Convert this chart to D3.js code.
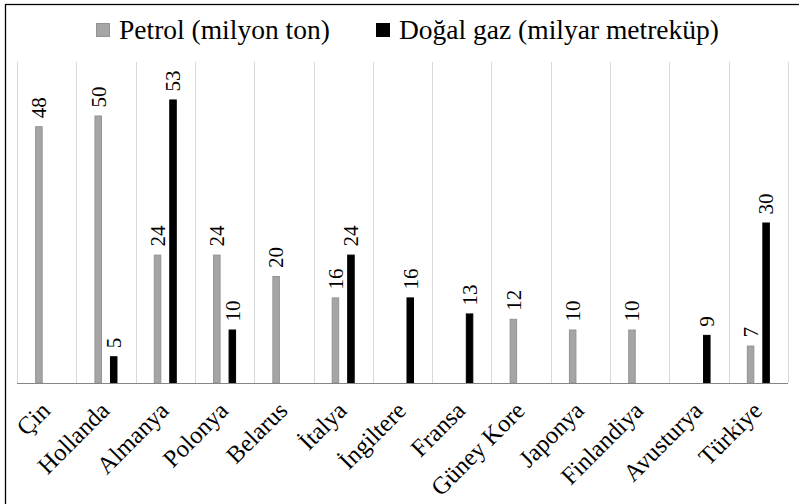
<!DOCTYPE html>
<html>
  <head>
    <meta charset="utf-8">
    <style>
        body { margin: 0; background: #fff; }
    </style>
    <script src="https://d3js.org/d3.v7.min.js"></script>
  </head>
  <body>
    <svg></svg>
    <script>
    var countries = ["Çin", "Hollanda", "Almanya", "Polonya", "Belarus", "İtalya", "İngiltere",
                     "Fransa", "Güney Kore", "Japonya", "Finlandiya", "Avusturya", "Türkiye"];
    var petrol = [48, 50, 24, 24, 20, 16, null, null, 12, 10, 10, null, 7];
    var gaz = [null, 5, 53, 10, null, 24, 16, 13, null, null, null, 9, 30];
    var seriesNames = ["Petrol (milyon ton)", "Doğal gaz (milyar metreküp)"];
    var seriesKeys = ["petrol", "gaz"];

    var FONT = "'Liberation Serif', 'Times New Roman', serif";
    var W = 799, H = 504;
    var svg = d3.select("svg")
        .attr("width", W)
        .attr("height", H)
        .attr("font-family", FONT);

    // outer frame (only top and left edges fall inside the window)
    svg.append("rect")
        .attr("x", 5.5).attr("y", 4.5)
        .attr("width", W + 20).attr("height", H + 20)
        .attr("fill", "#fff")
        .attr("stroke", "#000")
        .attr("stroke-width", 1.3);

    var x0 = d3.scaleBand()
        .domain(countries)
        .range([17, 788]);

    var x1 = d3.scaleBand()
        .domain(seriesKeys)
        .range([0, x0.bandwidth()])
        .paddingInner(0.516)
        .paddingOuter(1.17);

    var y = d3.scaleLinear()
        .domain([0, 60])
        .range([383, 62]);

    var color = {petrol: "#a5a5a5", gaz: "#000"};
    var edge = {petrol: "#939393", gaz: "#000"};

    // vertical gridlines between categories
    var gridX = countries.map(function(c) { return x0(c); }).concat([x0.range()[1]]);
    svg.append("g")
        .selectAll("line")
        .data(gridX)
        .enter().append("line")
          .attr("x1", function(d) { return Math.round(d) + 0.5; })
          .attr("x2", function(d) { return Math.round(d) + 0.5; })
          .attr("y1", y(60))
          .attr("y2", y(0))
          .attr("stroke", "#d9d9d9")
          .attr("stroke-width", 1);

    var rows = countries.map(function(c, i) {
        return {country: c, petrol: petrol[i], gaz: gaz[i]};
    });

    var groups = svg.append("g")
        .selectAll("g")
        .data(rows)
        .enter().append("g")
          .attr("transform", function(d) { return "translate(" + x0(d.country) + ",0)"; });

    var cells = groups.selectAll("g")
        .data(function(d) {
            return seriesKeys
              .map(function(k) { return {key: k, value: d[k]}; })
              .filter(function(e) { return e.value != null; });
        })
        .enter().append("g");

    cells.append("rect")
        .attr("x", function(d) { return x1(d.key) + 0.5; })
        .attr("y", function(d) { return y(d.value) + 0.5; })
        .attr("width", x1.bandwidth() - 1)
        .attr("height", function(d) { return y(0) - y(d.value) - 0.5; })
        .attr("fill", function(d) { return color[d.key]; })
        .attr("stroke", function(d) { return edge[d.key]; })
        .attr("stroke-width", 1);

    // value labels, rotated above each bar
    cells.append("g")
        .attr("transform", function(d) {
            return "translate(" + (x1(d.key) + x1.bandwidth() / 2) + "," + (y(d.value) - 8) + ")";
        })
      .append("text")
        .attr("transform", "rotate(-90)")
        .attr("dy", "0.35em")
        .attr("text-anchor", "start")
        .attr("font-size", 21)
        .attr("fill", "#000")
        .text(function(d) { return d.value; });

    // baseline
    svg.append("line")
        .attr("x1", x0.range()[0])
        .attr("x2", x0.range()[1])
        .attr("y1", y(0) + 0.5)
        .attr("y2", y(0) + 0.5)
        .attr("stroke", "#868686")
        .attr("stroke-width", 1.2);

    // category labels
    svg.append("g")
        .selectAll("g")
        .data(countries)
        .enter().append("g")
          .attr("transform", function(d) {
              return "translate(" + (x0(d) + x0.bandwidth() / 2 + 5) + ",412)";
          })
        .append("text")
          .attr("transform", "rotate(-45)")
          .attr("text-anchor", "end")
          .attr("font-size", 24.5)
          .attr("fill", "#000")
          .text(function(d) { return d; });

    // legend
    var legendX = [96, 376];
    var legend = svg.append("g")
        .selectAll("g")
        .data(seriesKeys)
        .enter().append("g")
          .attr("transform", function(d, i) { return "translate(" + legendX[i] + ",23)"; });

    legend.append("rect")
        .attr("x", 0.5).attr("y", 0.5)
        .attr("width", 13).attr("height", 13)
        .attr("fill", function(d) { return color[d]; })
        .attr("stroke", function(d) { return edge[d]; });

    legend.append("text")
        .attr("x", 23)
        .attr("y", 15.5)
        .attr("font-size", 27.5)
        .attr("fill", "#000")
        .text(function(d, i) { return seriesNames[i]; });
    </script>
  </body>
</html>
